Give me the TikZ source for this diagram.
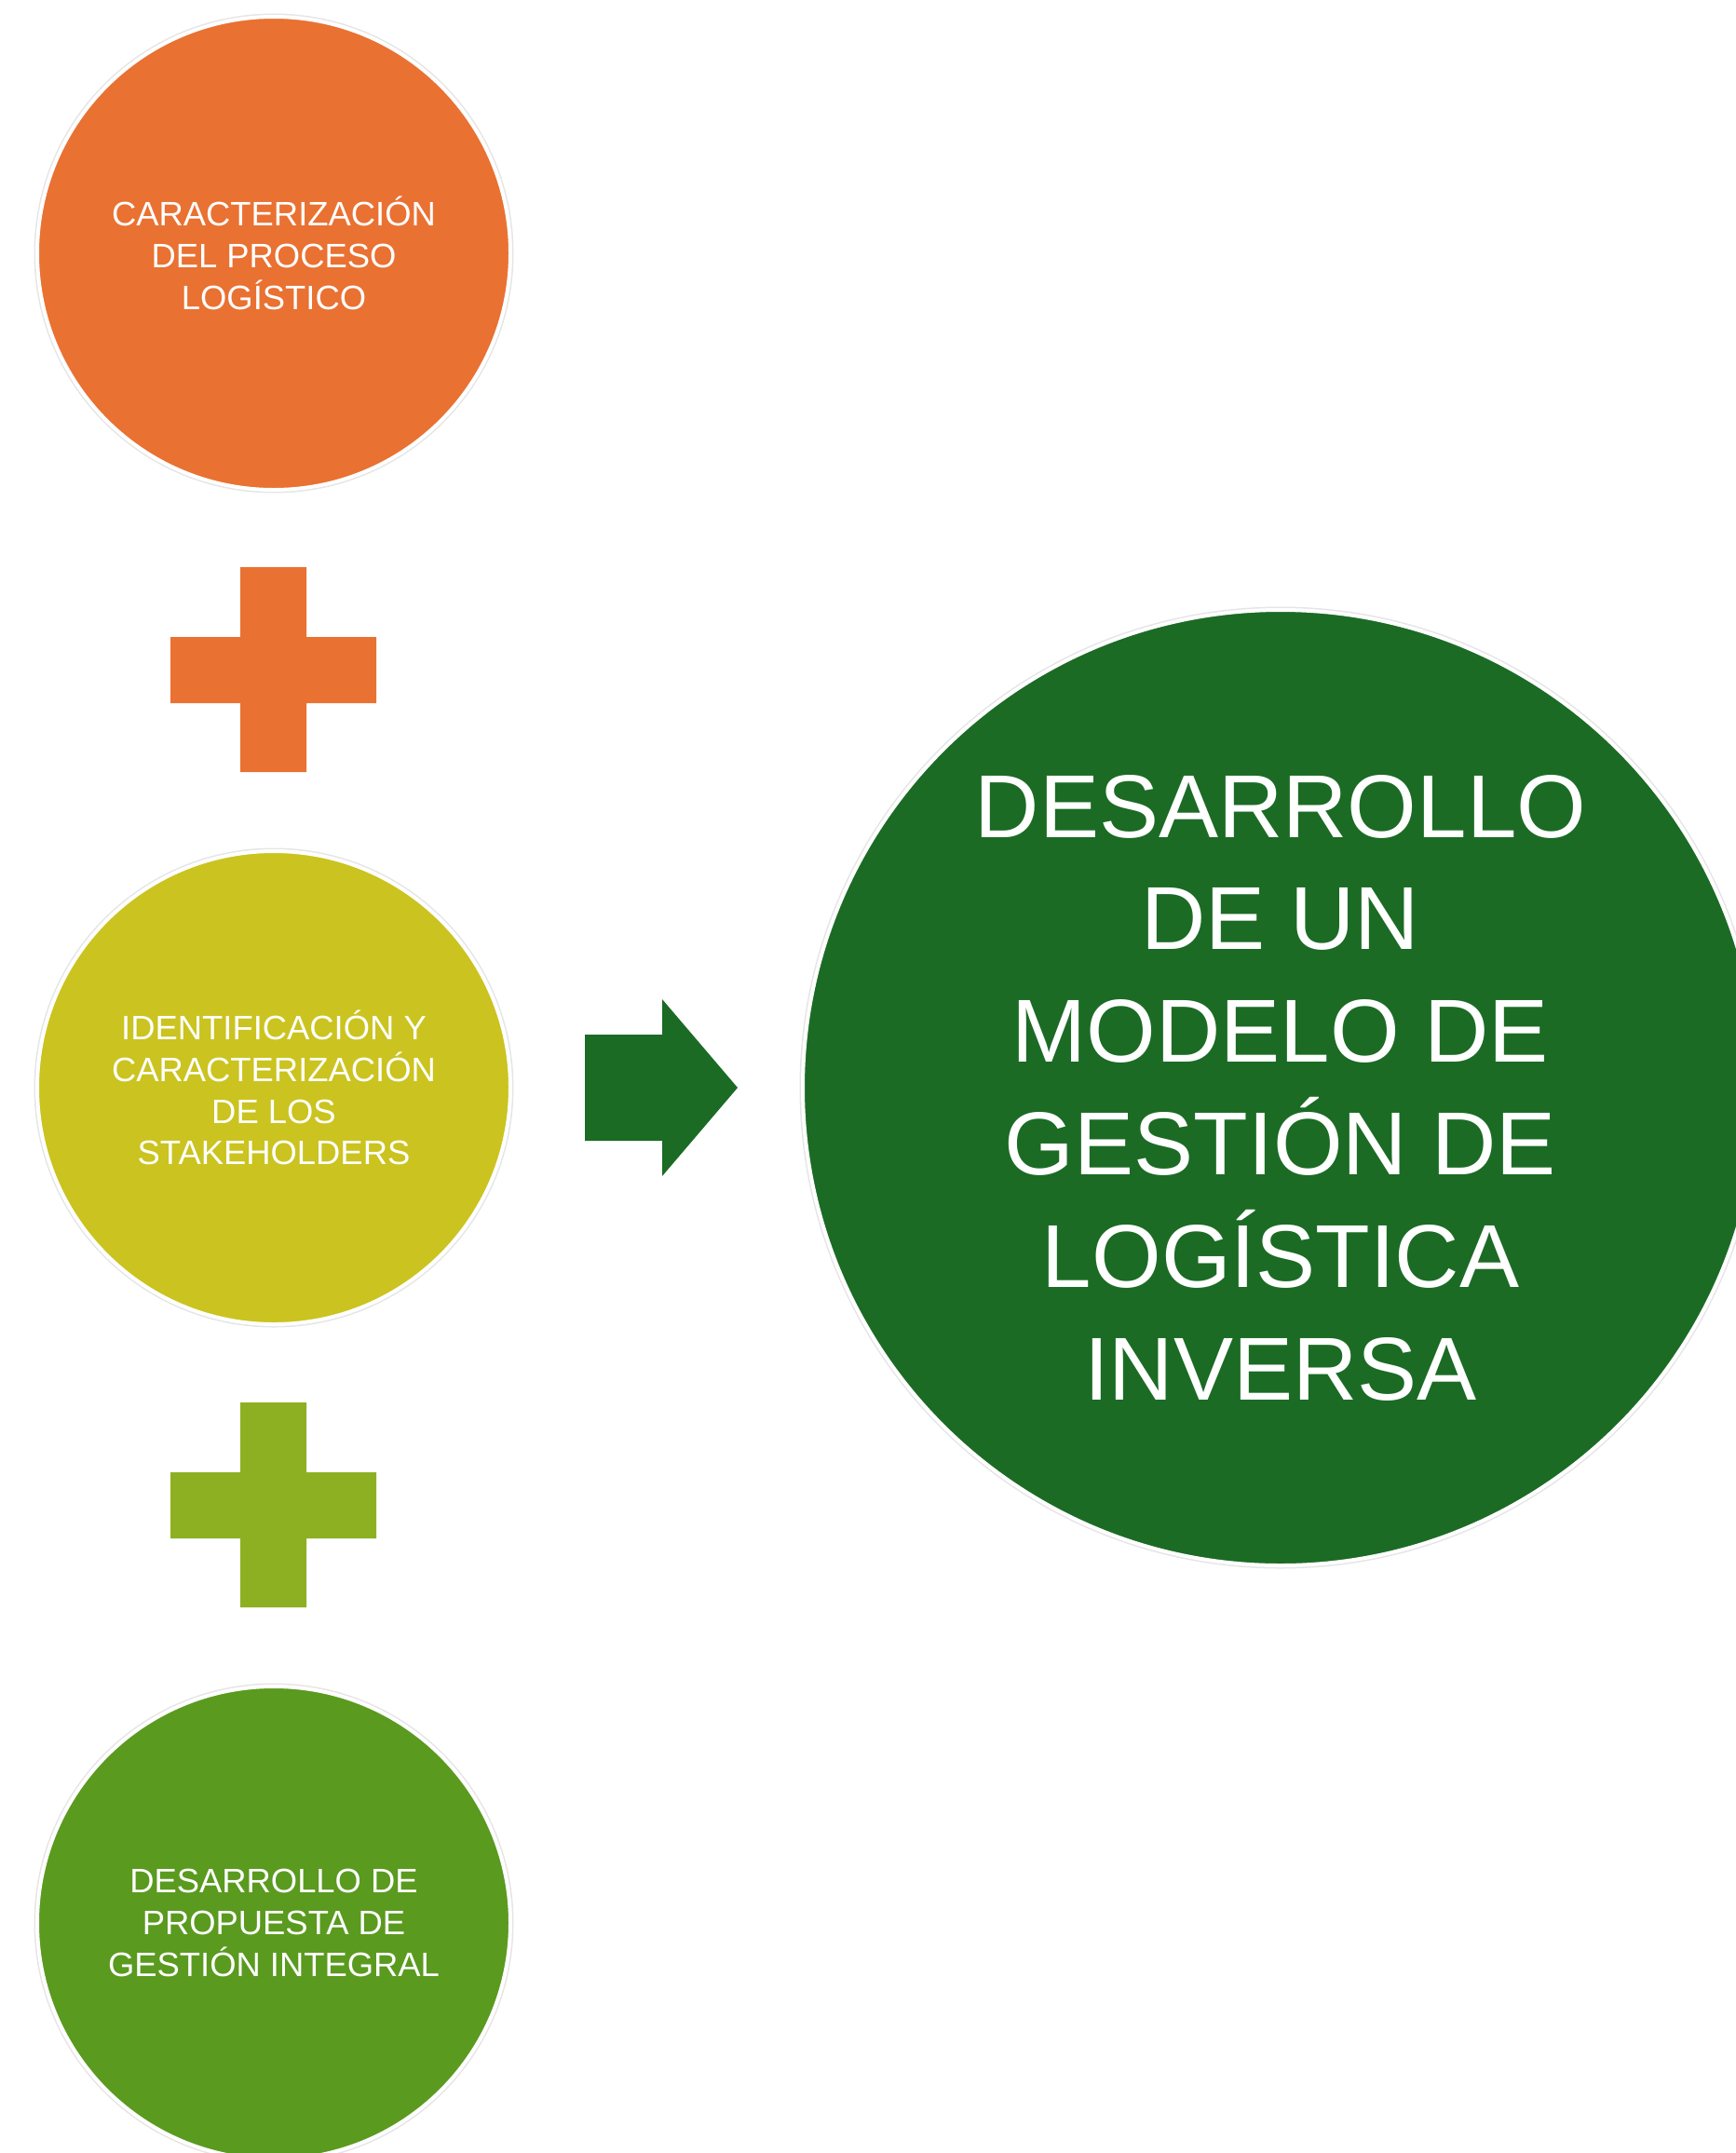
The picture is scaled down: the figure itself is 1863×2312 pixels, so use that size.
\documentclass[tikz,border=0pt]{standalone}
\usepackage{fontspec}
\setmainfont{Liberation Sans}
\definecolor{procorange}{HTML}{E97132}
\definecolor{stakeolive}{HTML}{CBC31F}
\definecolor{plusgreen}{HTML}{8DB022}
\definecolor{propgreen}{HTML}{5A9A1F}
\definecolor{modeldark}{HTML}{1B6B25}

\begin{document}
\begin{tikzpicture}[x=0.5pt, y=-0.5pt,
		stage/.style={circle, fill=#1, draw=white, line width=2pt, minimum size=254pt, inner sep=0pt,
			text=white, align=center, font=\fontsize{18.2}{22.4}\selectfont,
			preaction={draw=black!10, line width=3.5pt}},
		goal/.style={stage=modeldark, minimum size=513pt, font=\fontsize{48}{60.4}\selectfont},
		plussign/.style={fill=#1}
	]
		\useasboundingbox (0, 0) rectangle (1863, 2312);

		\node[stage=procorange] (proceso) at (294, 272) {CARACTERIZACIÓN\\DEL PROCESO\\LOGÍSTICO};
		\node[stage=stakeolive] (stakeholders) at (294, 1168) {IDENTIFICACIÓN Y\\CARACTERIZACIÓN\\DE LOS\\STAKEHOLDERS};
		\node[stage=propgreen] (propuesta) at (294, 2065) {DESARROLLO DE\\PROPUESTA DE\\GESTIÓN INTEGRAL};
		\node[goal] (modelo) at (1375, 1168) {DESARROLLO\\DE UN\\MODELO DE\\GESTIÓN DE\\LOGÍSTICA\\INVERSA};

		\fill[plussign=procorange] (258, 609) rectangle (329, 829) (183, 684) rectangle (404, 755);
		\fill[plussign=plusgreen] (258, 1506) rectangle (329, 1726) (183, 1581) rectangle (404, 1652);

		\fill[modeldark] (628, 1111) -- (711, 1111) -- (711, 1073) -- (792, 1168)
			-- (711, 1263) -- (711, 1225) -- (628, 1225) -- cycle;
	\end{tikzpicture}
\end{document}
